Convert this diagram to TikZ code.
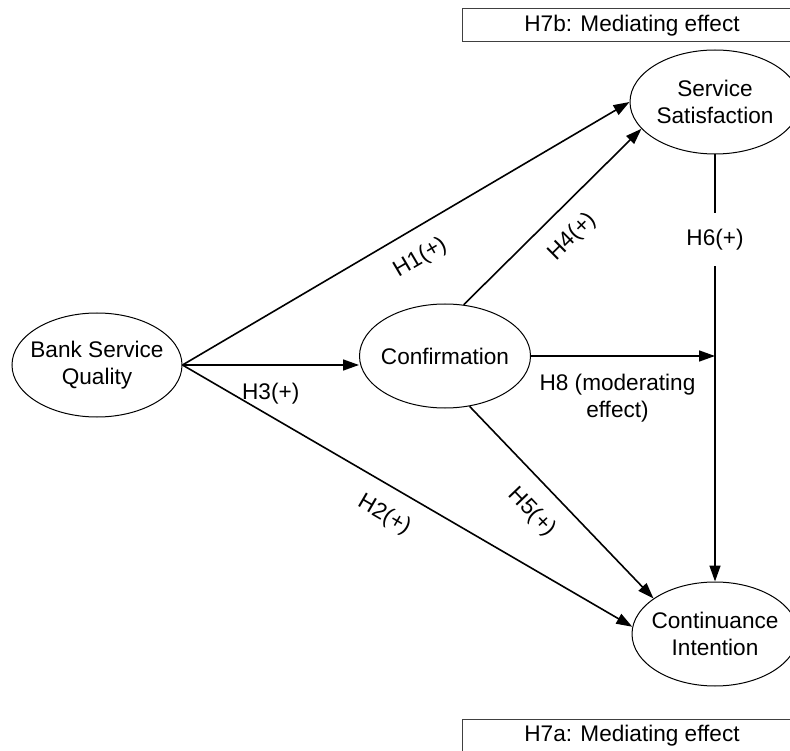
\documentclass[tikz,border=0pt]{standalone}
\usepackage{fontspec}
\setmainfont{Liberation Sans}
\usetikzlibrary{arrows.meta,shapes.geometric}
\begin{document}
\begin{tikzpicture}[x=1pt,y=-1pt,
  every node/.style={font=\fontsize{22.6}{27}\selectfont},
  construct/.style={draw, ellipse, line width=1pt, inner xsep=-20pt, inner ysep=-20pt, minimum height=104pt, align=center},
  hyp/.style={line width=1.6pt, -{Triangle[length=16pt,width=11pt]}},
  lab/.style={sloped, below=17pt, inner sep=0pt, align=center},
  effbox/.style={draw=black!75, line width=1pt, minimum width=340pt, minimum height=33pt, inner sep=0pt}
]
\useasboundingbox (0,0) rectangle (790,751);
\clip (0,0) rectangle (790,751);

\node[effbox] (h7b) at (632,25.5) {H7b: Mediating effect};
\node[effbox] (h7a) at (632,736) {H7a: Mediating effect};

\node[construct, minimum width=170pt] (bsq) at (97,365) {Bank Service\\Quality};
\node[construct, minimum width=171pt] (conf) at (445,356) {Confirmation};
\node[construct, minimum width=170pt] (ss) at (715,102) {Service\\Satisfaction};
\node[construct, minimum width=166pt] (ci) at (715,634) {Continuance\\Intention};

\coordinate (m) at (conf.east -| ss.south);

\draw[hyp] (bsq.east) -- node[lab, pos=0.5] (l1) {H1(+)} (ss.180);
\draw[hyp] (conf.70) -- node[lab, pos=0.5] (l4) {H4(+)} (ss.200);
\draw[hyp] (bsq.east) -- node[lab, pos=0.5] (l3) {H3(+)} (bsq.east -| conf.west);
\draw[hyp] (bsq.east) -- node[lab, pos=0.48] (l2) {H2(+)} (ci.175);
\draw[hyp] (conf.296) -- node[lab, pos=0.45] (l5) {H5(+)} (ci.150);
\draw[hyp] (conf.east) -- node[lab, pos=0.47] (l8) {H8 (moderating\\effect)} (m);
\draw[hyp] (ss.south) -- node[pos=0.2, fill=white, inner xsep=2pt, inner ysep=16pt] (l6) {H6(+)} (ci.north);
\end{tikzpicture}
\end{document}
